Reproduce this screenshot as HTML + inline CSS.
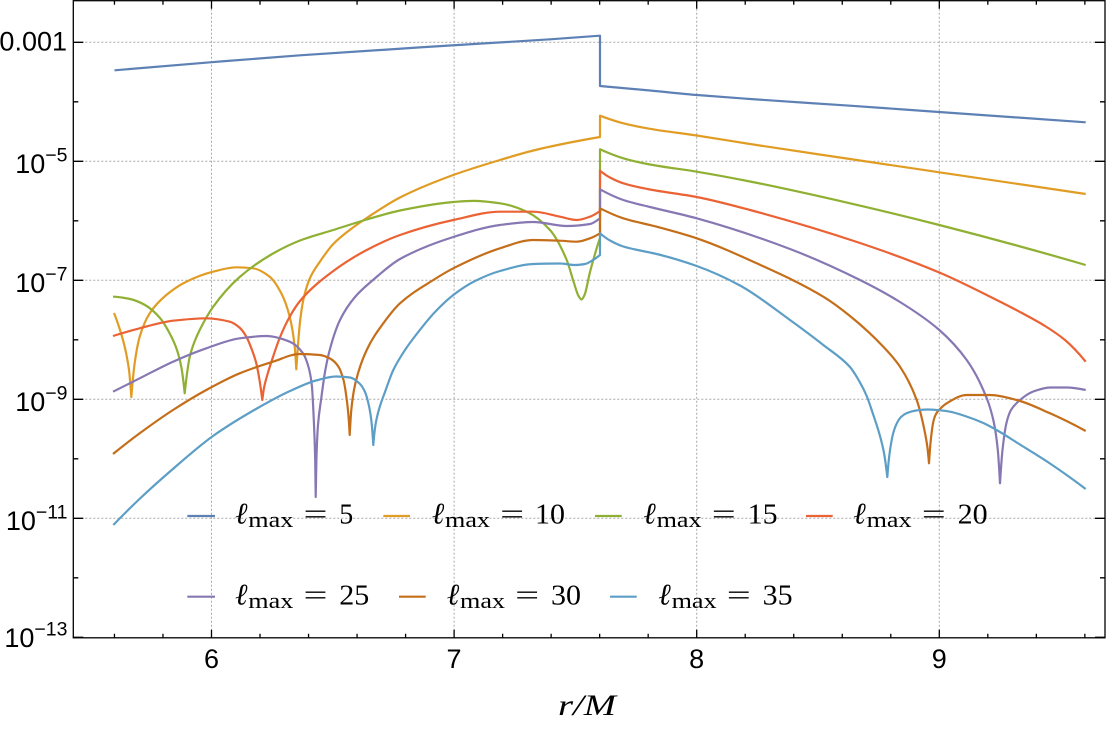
<!DOCTYPE html>
<html><head><meta charset="utf-8">
<style>
html,body{margin:0;padding:0;background:#fff;}
svg{display:block}
.tk{font-family:"Liberation Sans",Arial,sans-serif;font-size:27px;fill:#000}
.sup{font-size:19.5px}
.ell{font-family:"Liberation Serif","DejaVu Serif",serif;font-style:italic;font-size:30px;fill:#000}
.sub{font-family:"Liberation Serif","DejaVu Serif",serif;font-size:22px;fill:#000}
.lg{font-family:"Liberation Serif","DejaVu Serif",serif;font-size:28px;fill:#000}
</style>
</head><body>
<svg id="s" width="1112" height="732" viewBox="0 0 1112 732" xmlns="http://www.w3.org/2000/svg">
<rect width="1112" height="732" fill="#fff"/>
<g id="grid" stroke="#a8a8a8" stroke-width="1" stroke-dasharray="2,2"></g>
<g id="curves" fill="none" stroke-width="2.2" stroke-linejoin="round" stroke-linecap="butt"></g>
<g id="axes" stroke="#000" stroke-width="1.3" fill="none"></g>

<!-- y tick labels -->
<text class="tk" x="67" y="50.3" text-anchor="end">0.001</text>
<text class="tk" x="67.5" y="172.8" text-anchor="end">10<tspan class="sup" dy="-11.5">−5</tspan></text>
<text class="tk" x="67.5" y="291.8" text-anchor="end">10<tspan class="sup" dy="-11.5">−7</tspan></text>
<text class="tk" x="67.5" y="411" text-anchor="end">10<tspan class="sup" dy="-11.5">−9</tspan></text>
<text class="tk" x="67.5" y="530" text-anchor="end">10<tspan class="sup" dy="-11.5">−11</tspan></text>
<text class="tk" x="67.5" y="647" text-anchor="end">10<tspan class="sup" dy="-11.5">−13</tspan></text>

<!-- x tick labels -->
<text class="tk" x="211.5" y="668" text-anchor="middle">6</text>
<text class="tk" x="454" y="668" text-anchor="middle">7</text>
<text class="tk" x="696.7" y="668" text-anchor="middle">8</text>
<text class="tk" x="939.3" y="668" text-anchor="middle">9</text>

<!-- x axis label -->
<text x="558" y="715" font-family="Liberation Serif, serif" font-style="italic" font-size="30" textLength="58" lengthAdjust="spacingAndGlyphs">r/M</text>

<!-- legend lines -->
<g stroke-width="2.2">
<line x1="187.3" x2="215" y1="516" y2="516" stroke="#5E81B5"/>
<line x1="383.3" x2="410" y1="516" y2="516" stroke="#E19C24"/>
<line x1="595" x2="621.7" y1="516" y2="516" stroke="#8FB032"/>
<line x1="806" x2="832.7" y1="516" y2="516" stroke="#EB6235"/>
<line x1="187.3" x2="215" y1="596.7" y2="596.7" stroke="#8778B3"/>
<line x1="399" x2="425.7" y1="596.7" y2="596.7" stroke="#C56E1A"/>
<line x1="610" x2="636.7" y1="596.7" y2="596.7" stroke="#5D9EC7"/>
</g>

<!-- legend text row 1 -->
<text class="ell" x="235" y="523.5">ℓ</text>
<text class="sub" x="248.3" y="527" textLength="45" lengthAdjust="spacingAndGlyphs">max</text>
<text class="lg" x="303.5" y="523.5" textLength="24" lengthAdjust="spacingAndGlyphs">=</text>
<text class="lg" x="339.3" y="523.5">5</text>

<text class="ell" x="431.7" y="523.5">ℓ</text>
<text class="sub" x="445" y="527" textLength="45" lengthAdjust="spacingAndGlyphs">max</text>
<text class="lg" x="500.2" y="523.5" textLength="24" lengthAdjust="spacingAndGlyphs">=</text>
<text class="lg" x="535" y="523.5" textLength="30" lengthAdjust="spacingAndGlyphs">10</text>

<text class="ell" x="643.3" y="523.5">ℓ</text>
<text class="sub" x="656.6" y="527" textLength="45" lengthAdjust="spacingAndGlyphs">max</text>
<text class="lg" x="711.8" y="523.5" textLength="24" lengthAdjust="spacingAndGlyphs">=</text>
<text class="lg" x="747.6" y="523.5" textLength="30" lengthAdjust="spacingAndGlyphs">15</text>

<text class="ell" x="853.3" y="523.5">ℓ</text>
<text class="sub" x="866.6" y="527" textLength="45" lengthAdjust="spacingAndGlyphs">max</text>
<text class="lg" x="921.8" y="523.5" textLength="24" lengthAdjust="spacingAndGlyphs">=</text>
<text class="lg" x="957.6" y="523.5" textLength="30" lengthAdjust="spacingAndGlyphs">20</text>

<!-- legend text row 2 -->
<text class="ell" x="235" y="604.5">ℓ</text>
<text class="sub" x="248.3" y="608" textLength="45" lengthAdjust="spacingAndGlyphs">max</text>
<text class="lg" x="303.5" y="604.5" textLength="24" lengthAdjust="spacingAndGlyphs">=</text>
<text class="lg" x="339.3" y="604.5" textLength="30" lengthAdjust="spacingAndGlyphs">25</text>

<text class="ell" x="446.7" y="604.5">ℓ</text>
<text class="sub" x="460" y="608" textLength="45" lengthAdjust="spacingAndGlyphs">max</text>
<text class="lg" x="515.2" y="604.5" textLength="24" lengthAdjust="spacingAndGlyphs">=</text>
<text class="lg" x="551" y="604.5" textLength="30" lengthAdjust="spacingAndGlyphs">30</text>

<text class="ell" x="658.3" y="604.5">ℓ</text>
<text class="sub" x="671.6" y="608" textLength="45" lengthAdjust="spacingAndGlyphs">max</text>
<text class="lg" x="726.8" y="604.5" textLength="24" lengthAdjust="spacingAndGlyphs">=</text>
<text class="lg" x="762.6" y="604.5" textLength="30" lengthAdjust="spacingAndGlyphs">35</text>
</svg>
<script>
(function(){
const NS="http://www.w3.org/2000/svg";
function el(tag,attrs,parent){const e=document.createElementNS(NS,tag);for(const k in attrs)e.setAttribute(k,attrs[k]);parent.appendChild(e);return e;}
const X=r=>211.5+(r-6)*242.6;
const L=73.3,R=1105,T=0.7,B=637.8;
const grid=document.getElementById('grid');
[6,7,8,9].forEach(r=>el('line',{x1:X(r),x2:X(r),y1:T,y2:B},grid));
for(let k=0;k<5;k++){const y=42.3+2*k*59.5;el('line',{x1:L,x2:R,y1:y,y2:y},grid);}
const ax=document.getElementById('axes');
let d='';
for(let i=0;i<=20;i++){const r=5.6+i*0.2;const x=X(r).toFixed(2);const maj=Math.abs(r-Math.round(r))<1e-6;const len=maj?8:4;d+=`M${x},${B}v${-len}M${x},${T}v${len}`;}
for(let k=0;k<=10;k++){const y=(42.3+k*59.5).toFixed(2);const len=(k%2==0)?10:5;d+=`M${L},${y}h${len}M${R},${y}h${-len}`;}
el('path',{d:d},ax);
el('rect',{x:L,y:T,width:R-L,height:B-T},ax);

const cg=document.getElementById('curves');
function sgn(v){return v>0?1:(v<0?-1:0);}
function pchip(pts){
 const n=pts.length;
 if(n==2)return `L${pts[1][0]},${pts[1][1]}`;
 const h=[],dl=[];
 for(let k=0;k<n-1;k++){h.push(pts[k+1][0]-pts[k][0]);dl.push((pts[k+1][1]-pts[k][1])/h[k]);}
 const m=new Array(n).fill(0);
 for(let k=1;k<n-1;k++){
  if(dl[k-1]*dl[k]<=0){m[k]=0;}
  else{const w1=2*h[k]+h[k-1],w2=h[k]+2*h[k-1];m[k]=(w1+w2)/(w1/dl[k-1]+w2/dl[k]);}
 }
 function endSlope(h0,h1,d0,d1){
  let mm=((2*h0+h1)*d0-h0*d1)/(h0+h1);
  if(sgn(mm)!=sgn(d0))mm=0;
  else if(sgn(d0)!=sgn(d1)&&Math.abs(mm)>3*Math.abs(d0))mm=3*d0;
  return mm;
 }
 m[0]=endSlope(h[0],h[1],dl[0],dl[1]);
 m[n-1]=endSlope(h[n-2],h[n-3],dl[n-2],dl[n-3]);
 let s='';
 for(let k=0;k<n-1;k++){
  const p=pts[k],q=pts[k+1],hh=h[k]/3;
  s+=`C${(p[0]+hh).toFixed(3)},${(p[1]+m[k]*hh).toFixed(3)} ${(q[0]-hh).toFixed(3)},${(q[1]-m[k+1]*hh).toFixed(3)} ${q[0]},${q[1]}`;
 }
 return s;
}
function curve(pieces,color){let s=`M${pieces[0][0][0]},${pieces[0][0][1]}`;pieces.forEach(p=>s+=pchip(p));el('path',{d:s,stroke:color},cg);}

// l=5
curve([
[[114.5,70.3],[211.7,62.2],[300,55.3],[450,45.5],[550,39.3],[600,35.7]],
[[600,35.7],[600,86]],
[[600,86],[650,90.5],[697,95],[750,99],[850,105.7],[939,112],[1085.7,122.3]]
],'#5E81B5');

// l=10
curve([
[[114,313],[120,330],[125,348],[129,370],[131.3,397]],
[[131.3,397],[134.7,363],[139.7,336.7],[149.7,313.3],[166.3,295],[186.3,281.7],[213,271.7],[236.3,267.3],[253,268.3],[269.7,276.7],[281.3,293.3],[289.7,316.7],[294.7,346.7],[296.3,369.3]],
[[296.3,369.3],[298,345],[300,322],[303.3,300],[310,278],[319.7,262],[333.3,244],[349.7,230],[366.7,218],[400,197.5],[453.3,175],[500,160],[533.3,150.5],[570,142.5],[600,137]],
[[600,137],[600,115.7]],
[[600,115.7],[623.3,123.3],[650,128.8],[696.7,135.5],[750,144],[850,159],[939.3,172.3],[1085.7,194]]
],'#E19C24');

// l=15
curve([
[[113,296.7],[130,299],[145,305],[160,318],[170,334],[177,350],[181.5,368],[184.7,393.3]],
[[184.7,393.3],[187.5,370],[189.7,357],[194,343],[199.7,330],[213,307],[239.7,277],[273,253.5],[300,240.5],[333.3,230],[366.7,219.5],[400,210.5],[453.3,202],[473.3,200.9],[500,203.3],[526.7,211.7],[550,230],[566.7,260],[574,283],[578.5,296],[581.5,299.5],[584.5,295],[590,272],[600,238]],
[[600,238],[600,149.3]],
[[600,149.3],[623.3,158.3],[650,164.5],[696.7,171.7],[750,181.5],[850,203.3],[939.3,225],[1085.7,265]]
],'#8FB032');

// l=20
curve([
[[113,336],[139.7,328.3],[173,320.7],[206.3,318.3],[229.7,321.7],[240,328],[246.3,336.7],[252,350],[256.3,363.3],[259.5,380],[262.3,400]],
[[262.3,400],[264,388],[267,376],[272,360],[279.7,338],[289,318],[300,301],[333.3,271],[366.7,250],[400,235],[453.3,220],[500,211.7],[533.3,211.7],[560,216.7],[576.7,220],[590,216.7],[600,211]],
[[600,211],[600,170.7]],
[[600,170.7],[610,177.5],[623.3,183.3],[650,189.5],[696.7,197],[750,210],[860,243],[939.3,272.5],[996.7,300],[1020,312],[1045,326],[1065,340],[1085.7,361.7]]
],'#EB6235');

// l=25
curve([
[[113,391.7],[139.7,378.3],[173,361.7],[206.3,348.3],[239.7,338.3],[266.3,336],[289.7,341.7],[303,353.3],[308.5,367],[311.8,385],[313.8,420],[315.2,460],[315.7,497]],
[[315.7,497],[316.4,460],[318,425],[321.3,398],[325,372],[329.7,350],[340,320],[355,297],[373,280],[400,259],[453.3,237],[500,225],[533.3,222],[566.7,226],[590,224],[600,218.3]],
[[600,218.3],[600,189.3]],
[[600,189.3],[623.3,200],[650,207],[696.7,218.3],[790,249],[860,280],[900,302],[939.3,330],[966.7,360],[983.3,390],[993.3,420],[997.8,450],[1000,483.3]],
[[1000,483.3],[1002.5,450],[1006.7,422],[1011,410],[1016.7,403],[1033.3,391.5],[1050,387.5],[1066.7,387.5],[1085.7,390]]
],'#8778B3');

// l=30
curve([
[[113,454],[139.7,433.3],[173,410],[206.3,390],[239.7,373.3],[273,361.7],[299.7,354],[319.7,355],[330,358.5],[338,366],[343.5,380],[346.8,400],[348.8,420],[349.7,435]],
[[349.7,435],[351.3,410],[355,385],[366.7,350],[383.3,323.3],[400,303.3],[433.3,280],[453.3,268.3],[500,248.3],[533.3,240],[560,240.7],[576.7,241.7],[590,238.3],[600,233.3]],
[[600,233.3],[600,208.3]],
[[600,208.3],[623.3,218.3],[656.7,226.7],[696.7,238.3],[756.7,263.3],[823.3,296.7],[850,316],[883.3,346.7],[900,366.7],[916.7,400],[924,428],[927.5,448],[929,463.3]],
[[929,463.3],[930.8,440],[933.5,421],[936,414],[939,410],[946.7,403.3],[966.7,395],[990,395],[1016.7,400],[1050,413.3],[1085.7,431]]
],'#C56E1A');

// l=35
curve([
[[113.3,525],[140,498.5],[170,471.5],[213,436],[256,409],[290,391],[316,380.5],[336,376.5],[350,377.5],[360,384],[365,392],[369,406],[371.5,422],[373.3,445]],
[[373.3,445],[375,428],[377,417],[380,406],[385,392],[393.3,370],[405,350],[416.7,334],[435,312],[453.3,295],[475,281],[500,271],[533.3,264],[560,263.5],[575,265],[585,264],[593,260],[600,255]],
[[600,255],[600,233.3]],
[[600,233.3],[610,240.5],[623.3,246.5],[640,250.5],[656.7,254],[696.7,266],[740,285.5],[790,320],[823.3,345],[850,367],[858,379],[866.7,396],[873,414],[880,436],[884,453],[887.3,477]],
[[887.3,477],[888.8,460],[890.5,447],[893,434],[896.5,424],[901,417],[907,413],[916,410.5],[927,409.5],[940,410.3],[950,411.7],[965,416],[983.3,423],[1000,432],[1016.7,442.5],[1050,463.5],[1085.7,489]]
],'#5D9EC7');
})();
</script>
</body></html>
